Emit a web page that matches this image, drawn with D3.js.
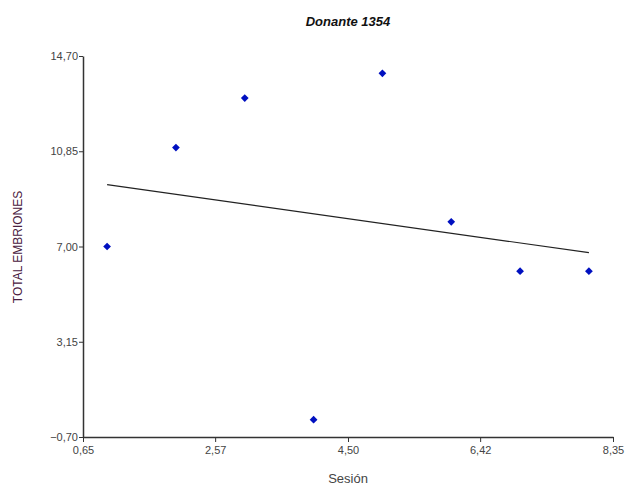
<!DOCTYPE html>
<meta charset="utf-8">
<script src="https://d3js.org/d3.v7.min.js"></script>
<style>
  body { margin: 0; background: #fff; }
  svg text { font-family: "Liberation Sans", Arial, sans-serif; }
</style>
<div id="chart"></div>
<script>
// data
var sessions = [1, 2, 3, 4, 5, 6, 7, 8];
var embriones = [7, 11, 13, 0, 14, 8, 6, 6];
var xTicks = [0.65, 2.57, 4.50, 6.42, 8.35];
var yTicks = [-0.70, 3.15, 7.00, 10.85, 14.70];

var width = 628, height = 491;
var margin = {top: 56, right: 15, bottom: 54, left: 83};

var svg = d3.select("#chart").append("svg")
    .attr("width", width)
    .attr("height", height);

var x = d3.scaleLinear().domain([0.65, 8.35]).range([margin.left, width - margin.right]);
var y = d3.scaleLinear().domain([-0.70, 14.70]).range([height - margin.bottom, margin.top]);

var fmt = function(d) { return d3.format(".2f")(d).replace(".", ","); };

// x axis
var gx = svg.append("g")
    .attr("transform", "translate(0," + (height - margin.bottom) + ")")
    .call(d3.axisBottom(x).tickValues(xTicks).tickFormat(fmt).tickSize(5).tickSizeOuter(0));
gx.select(".domain").attr("stroke", "#333").attr("stroke-width", 1.5);
gx.selectAll(".tick line").attr("stroke", "#333");
gx.selectAll(".tick text").attr("fill", "#444").attr("font-size", 11).attr("dy", "0.85em");

// y axis
var gy = svg.append("g")
    .attr("transform", "translate(" + margin.left + ",0)")
    .call(d3.axisLeft(y).tickValues(yTicks).tickFormat(fmt).tickSize(4).tickSizeOuter(0));
gy.select(".domain").attr("stroke", "#333").attr("stroke-width", 1.5);
gy.selectAll(".tick line").attr("stroke", "#333");
gy.selectAll(".tick text").attr("fill", "#444").attr("font-size", 11).attr("x", -5);

// title and axis labels
svg.append("text")
    .attr("x", (margin.left + width - margin.right) / 2)
    .attr("y", 26)
    .attr("text-anchor", "middle")
    .attr("font-weight", "bold")
    .attr("font-style", "italic")
    .attr("font-size", 13)
    .attr("fill", "#111")
    .text("Donante 1354");

svg.append("text")
    .attr("x", (margin.left + width - margin.right) / 2)
    .attr("y", 483)
    .attr("text-anchor", "middle")
    .attr("font-size", 13)
    .attr("fill", "#444")
    .text("Sesión");

svg.append("text")
    .attr("transform", "translate(22," + 247 + ") rotate(-90)")
    .attr("text-anchor", "middle")
    .attr("font-size", 12)
    .attr("fill", "#4a2040")
    .text("TOTAL EMBRIONES");

// regression line over the data range
var mx = d3.mean(sessions), my = d3.mean(embriones);
var sxy = d3.sum(sessions, function(d, i) { return (d - mx) * (embriones[i] - my); });
var sxx = d3.sum(sessions, function(d) { return (d - mx) * (d - mx); });
var slope = sxy / sxx, icpt = my - slope * mx;
var ext = d3.extent(sessions);
svg.append("line")
    .attr("x1", x(ext[0])).attr("y1", y(icpt + slope * ext[0]))
    .attr("x2", x(ext[1])).attr("y2", y(icpt + slope * ext[1]))
    .attr("stroke", "#222")
    .attr("stroke-width", 1.2);

// points (square turned 45 degrees)
svg.append("g")
  .selectAll("path")
  .data(sessions)
  .enter()
  .append("path")
    .attr("d", d3.symbol().type(d3.symbolSquare).size(30))
    .attr("transform", function(d, i) {
      return "translate(" + x(d) + "," + y(embriones[i]) + ") rotate(45)";
    })
    .attr("fill", "#0010c0");
</script>
